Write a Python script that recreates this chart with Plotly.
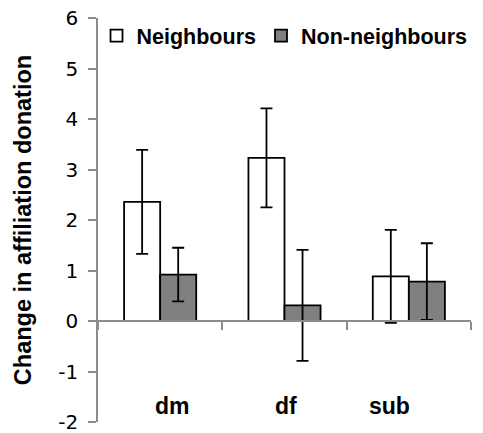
import plotly.graph_objects as go

categories = ["dm", "df", "sub"]
neighbours = [2.36, 3.23, 0.885]
neighbours_err = [1.03, 0.98, 0.92]
non_neighbours = [0.92, 0.31, 0.78]
non_neighbours_err = [0.53, 1.10, 0.76]
y_ticks = [-2, -1, 0, 1, 2, 3, 4, 5, 6]
y_tick_labels = ["-2", "-1", "0", "1", "2", "3", "4", "5", "6"]
label_shift = [12, 1, -19]

FONT = "Liberation Sans, Arial, sans-serif"
TICK_FONT = "DejaVu Sans, sans-serif"
AXIS_GRAY = "#8c8c8c"

fig = go.Figure()
fig.add_trace(go.Bar(
    name="Neighbours", x=categories, y=neighbours,
    marker=dict(color="white", line=dict(color="black", width=1.8)),
    error_y=dict(type="data", array=neighbours_err, color="black", thickness=1.8, width=6),
))
fig.add_trace(go.Bar(
    name="Non-neighbours", x=categories, y=non_neighbours,
    marker=dict(color="#808080", line=dict(color="black", width=1.8)),
    error_y=dict(type="data", array=non_neighbours_err, color="black", thickness=1.8, width=6),
))

for c, s in zip(categories, label_shift):
    fig.add_annotation(x=c, y=-1.68, xref="x", yref="y", text="<b>%s</b>" % c,
                       showarrow=False, xshift=s,
                       font=dict(family=FONT, size=23, color="black"))

fig.update_layout(
    width=483, height=433,
    margin=dict(l=98, r=12, t=18, b=11, autoexpand=False),
    paper_bgcolor="white", plot_bgcolor="white",
    barmode="group", bargap=0.42, bargroupgap=0,
    font=dict(family=FONT, color="black"),
    showlegend=True,
    legend=dict(orientation="h", x=-0.004, xanchor="left", y=1.007, yanchor="top",
                font=dict(family=FONT, size=21.5, color="black", weight="bold"),
                bgcolor="rgba(0,0,0,0)", itemclick=False, tracegroupgap=0,
                traceorder="normal"),
    xaxis=dict(
        range=[-0.5, 2.5], anchor="free", position=0.25,
        showline=True, linecolor=AXIS_GRAY, linewidth=1.5,
        ticks="outside", tickson="boundaries", ticklen=8, tickcolor=AXIS_GRAY, tickwidth=1.5,
        showticklabels=False, showgrid=False, zeroline=False,
    ),
    yaxis=dict(
        range=[-2, 6], tickvals=y_ticks, ticktext=y_tick_labels, domain=[0, 1],
        showline=True, linecolor=AXIS_GRAY, linewidth=1.5,
        ticks="outside", ticklen=8, tickcolor=AXIS_GRAY, tickwidth=1.5,
        tickfont=dict(family=TICK_FONT, size=20, color="black"),
        ticklabelstandoff=6, ticklabeloverflow="allow",
        showgrid=False, zeroline=False, automargin=False,
        title=dict(text="<b>Change in affiliation donation</b>",
                   font=dict(family=FONT, size=23.5, color="black"), standoff=20),
    ),
)

fig.write_html("out.html", config={"displayModeBar": False},
               post_script="document.body.style.margin='0';")
